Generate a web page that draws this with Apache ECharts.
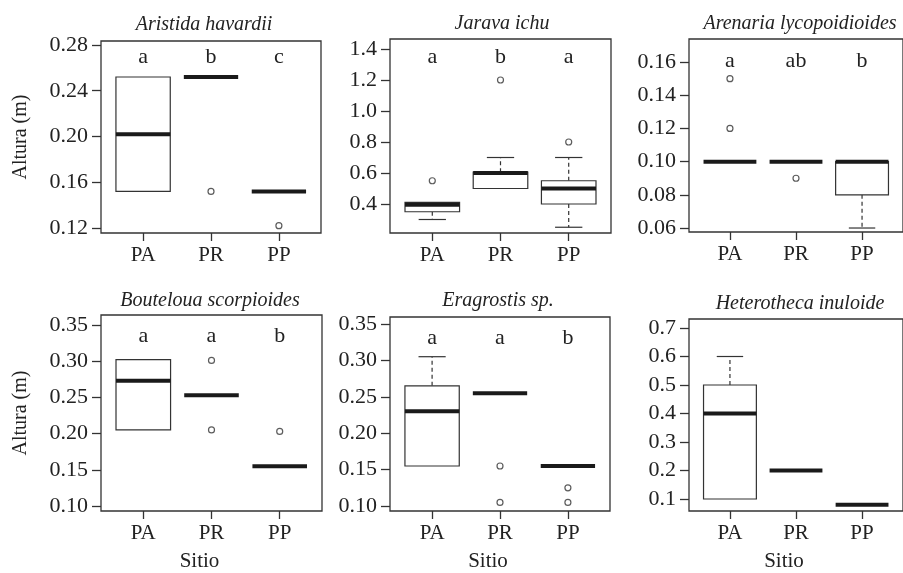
<!DOCTYPE html>
<html>
<head>
<meta charset="utf-8">
<script src="https://cdn.jsdelivr.net/npm/echarts@6/dist/echarts.min.js"></script>
<style>
html,body{margin:0;padding:0;background:#fff;}
#chart{width:903px;height:573px;}
</style>
</head>
<body>
<div id="chart"></div>
<script>
// ---------- data ----------
const sites = ['PA', 'PR', 'PP'];
// boxes per site: [lower whisker, Q1, median, Q3, upper whisker]
const aristidaBoxes = [[0.152, 0.152, 0.202, 0.252, 0.252], [0.252, 0.252, 0.252, 0.252, 0.252], [0.152, 0.152, 0.152, 0.152, 0.152]];
const aristidaOutliers = [[2, 0.152], [3, 0.122]];
const aristidaLetters = ['a', 'b', 'c'];
const aristidaTicks = [0.12, 0.16, 0.20, 0.24, 0.28];

const jaravaBoxes = [[0.30, 0.35, 0.395, 0.41, 0.41], [0.50, 0.50, 0.60, 0.605, 0.70], [0.25, 0.40, 0.50, 0.55, 0.70]];
const jaravaOutliers = [[1, 0.55], [2, 1.2], [3, 0.8]];
const jaravaLetters = ['a', 'b', 'a'];
const jaravaTicks = [0.4, 0.6, 0.8, 1.0, 1.2, 1.4];

const arenariaBoxes = [[0.10, 0.10, 0.10, 0.10, 0.10], [0.10, 0.10, 0.10, 0.10, 0.10], [0.06, 0.08, 0.10, 0.10, 0.10]];
const arenariaOutliers = [[1, 0.15], [1, 0.12], [2, 0.09]];
const arenariaLetters = ['a', 'ab', 'b'];
const arenariaTicks = [0.06, 0.08, 0.10, 0.12, 0.14, 0.16];

const boutelouaBoxes = [[0.205, 0.205, 0.273, 0.302, 0.302], [0.253, 0.253, 0.253, 0.253, 0.253], [0.155, 0.155, 0.155, 0.155, 0.155]];
const boutelouaOutliers = [[2, 0.301], [2, 0.205], [3, 0.203]];
const boutelouaLetters = ['a', 'a', 'b'];
const boutelouaTicks = [0.10, 0.15, 0.20, 0.25, 0.30, 0.35];

const eragrostisBoxes = [[0.155, 0.155, 0.23, 0.265, 0.305], [0.255, 0.255, 0.255, 0.255, 0.255], [0.155, 0.155, 0.155, 0.155, 0.155]];
const eragrostisOutliers = [[2, 0.155], [2, 0.105], [3, 0.125], [3, 0.105]];
const eragrostisLetters = ['a', 'a', 'b'];
const eragrostisTicks = [0.10, 0.15, 0.20, 0.25, 0.30, 0.35];

const heterothecaBoxes = [[0.1, 0.1, 0.4, 0.5, 0.6], [0.2, 0.2, 0.2, 0.2, 0.2], [0.08, 0.08, 0.08, 0.08, 0.08]];
const heterothecaOutliers = [];
const heterothecaLetters = [];
const heterothecaTicks = [0.1, 0.2, 0.3, 0.4, 0.5, 0.6, 0.7];

// ---------- layout ----------
const FONT = 'Liberation Serif';
const INK = '#222';
const panels = [
  {title: 'Aristida havardii', boxes: aristidaBoxes, outliers: aristidaOutliers, letters: aristidaLetters, ticks: aristidaTicks,
   grid: {left: 101, top: 41, width: 220, height: 192}, ymin: 0.1156, ymax: 0.2835, dec: 2, letterY: 0.2695,
   titleX: 204, titleY: 15, yName: true, xName: false},
  {title: 'Jarava ichu', boxes: jaravaBoxes, outliers: jaravaOutliers, letters: jaravaLetters, ticks: jaravaTicks,
   grid: {left: 390, top: 39, width: 221, height: 194}, ymin: 0.2129, ymax: 1.4645, dec: 1, letterY: 1.348,
   titleX: 502, titleY: 14, yName: false, xName: false},
  {title: 'Arenaria lycopoidioides', boxes: arenariaBoxes, outliers: arenariaOutliers, letters: arenariaLetters, ticks: arenariaTicks,
   grid: {left: 689, top: 39, width: 220, height: 193}, ymin: 0.0576, ymax: 0.1739, dec: 2, letterY: 0.1606,
   titleX: 800, titleY: 14, yName: false, xName: false},
  {title: 'Bouteloua scorpioides', boxes: boutelouaBoxes, outliers: boutelouaOutliers, letters: boutelouaLetters, ticks: boutelouaTicks,
   grid: {left: 101, top: 315, width: 221, height: 199}, ymin: 0.0932, ymax: 0.3636, dec: 2, letterY: 0.3337,
   titleX: 210, titleY: 291, yName: true, xName: true},
  {title: 'Eragrostis sp.', boxes: eragrostisBoxes, outliers: eragrostisOutliers, letters: eragrostisLetters, ticks: eragrostisTicks,
   grid: {left: 390, top: 317, width: 220, height: 197}, ymin: 0.0932, ymax: 0.3595, dec: 2, letterY: 0.331,
   titleX: 498, titleY: 291, yName: false, xName: true},
  {title: 'Heterotheca inuloide', boxes: heterothecaBoxes, outliers: heterothecaOutliers, letters: heterothecaLetters, ticks: heterothecaTicks,
   grid: {left: 689, top: 319, width: 220, height: 192}, ymin: 0.0579, ymax: 0.7316, dec: 1, letterY: 0,
   titleX: 800, titleY: 294, yName: false, xName: true}
];

function boxRenderItem(params, api) {
  const x = api.value(0);
  const lo = api.value(1), q1 = api.value(2), med = api.value(3), q3 = api.value(4), hi = api.value(5);
  const half = 0.4, staple = 0.2;
  const children = [];
  const lineStyle = {stroke: '#333', lineWidth: 1.2, fill: null};
  if (hi > q3) {
    const a = api.coord([x, q3]), b = api.coord([x, hi]);
    children.push({type: 'line', shape: {x1: a[0], y1: a[1], x2: b[0], y2: b[1]}, style: Object.assign({lineDash: [4, 3]}, lineStyle)});
    const s1 = api.coord([x - staple, hi]), s2 = api.coord([x + staple, hi]);
    children.push({type: 'line', shape: {x1: s1[0], y1: s1[1], x2: s2[0], y2: s2[1]}, style: lineStyle});
  }
  if (lo < q1) {
    const a = api.coord([x, q1]), b = api.coord([x, lo]);
    children.push({type: 'line', shape: {x1: a[0], y1: a[1], x2: b[0], y2: b[1]}, style: Object.assign({lineDash: [4, 3]}, lineStyle)});
    const s1 = api.coord([x - staple, lo]), s2 = api.coord([x + staple, lo]);
    children.push({type: 'line', shape: {x1: s1[0], y1: s1[1], x2: s2[0], y2: s2[1]}, style: lineStyle});
  }
  if (q3 > q1) {
    const tl = api.coord([x - half, q3]), br = api.coord([x + half, q1]);
    children.push({type: 'rect', shape: {x: tl[0], y: tl[1], width: br[0] - tl[0], height: br[1] - tl[1]},
      style: {stroke: '#333', lineWidth: 1.2, fill: '#fff'}});
  }
  const m1 = api.coord([x - half, med]), m2 = api.coord([x + half, med]);
  children.push({type: 'line', shape: {x1: m1[0], y1: m1[1], x2: m2[0], y2: m2[1]}, style: {stroke: '#1a1a1a', lineWidth: 4}});
  return {type: 'group', children: children};
}

const option = {
  animation: false,
  backgroundColor: '#fff',
  title: [], grid: [], xAxis: [], yAxis: [], series: []
};

panels.forEach((p, i) => {
  option.title.push({
    text: p.title, left: p.titleX, top: p.titleY, textAlign: 'center', padding: 0,
    textStyle: {fontFamily: FONT, fontStyle: 'italic', fontWeight: 'normal', fontSize: 20, color: INK}
  });
  option.grid.push(Object.assign({show: true, borderColor: '#333', borderWidth: 1.3, backgroundColor: 'transparent', containLabel: false}, p.grid));
  option.xAxis.push({
    type: 'value', gridIndex: i, min: 0.38, max: 3.62,
    splitLine: {show: false}, axisLine: {show: false},
    axisTick: {show: true, customValues: [1, 2, 3], length: 8, lineStyle: {color: '#333', width: 1.3}},
    axisLabel: {customValues: [1, 2, 3], formatter: v => sites[Math.round(v) - 1], margin: 12,
      fontFamily: FONT, fontSize: 21, color: INK},
    name: p.xName ? 'Sitio' : '', nameLocation: 'middle', nameGap: 40,
    nameTextStyle: {fontFamily: FONT, fontSize: 21, color: INK, padding: [0, 24, 0, 0]}
  });
  option.yAxis.push({
    type: 'value', gridIndex: i, min: p.ymin, max: p.ymax,
    splitLine: {show: false}, axisLine: {show: false},
    axisTick: {show: true, customValues: p.ticks, length: 9, lineStyle: {color: '#333', width: 1.3}},
    axisLabel: {customValues: p.ticks, formatter: v => Number(v).toFixed(p.dec), margin: 13,
      fontFamily: FONT, fontSize: 22, color: INK},
    name: p.yName ? 'Altura (m)' : '', nameLocation: 'middle', nameGap: 70,
    nameTextStyle: {fontFamily: FONT, fontSize: 20, color: INK}
  });
  option.series.push({
    type: 'custom', xAxisIndex: i, yAxisIndex: i, silent: true,
    data: p.boxes.map((b, k) => [k + 1].concat(b)),
    encode: {x: 0, y: [1, 2, 3, 4, 5]},
    renderItem: boxRenderItem
  });
  option.series.push({
    type: 'scatter', xAxisIndex: i, yAxisIndex: i, silent: true,
    symbol: 'circle', symbolSize: 6,
    itemStyle: {color: '#fff', borderColor: '#333', borderWidth: 1.2},
    data: p.outliers
  });
  if (p.letters.length) {
    option.series.push({
      type: 'custom', xAxisIndex: i, yAxisIndex: i, silent: true,
      data: p.letters.map((l, k) => [k + 1, p.letterY]),
      encode: {x: 0, y: 1},
      renderItem: (params, api) => {
        const c = api.coord([api.value(0), api.value(1)]);
        return {type: 'text', x: c[0], y: c[1],
          style: {text: p.letters[params.dataIndex], fontFamily: FONT, fontSize: 22, fill: INK, align: 'center', verticalAlign: 'middle'}};
      }
    });
  }
});

const chart = echarts.init(document.getElementById('chart'));
chart.setOption(option);
</script>
</body>
</html>
